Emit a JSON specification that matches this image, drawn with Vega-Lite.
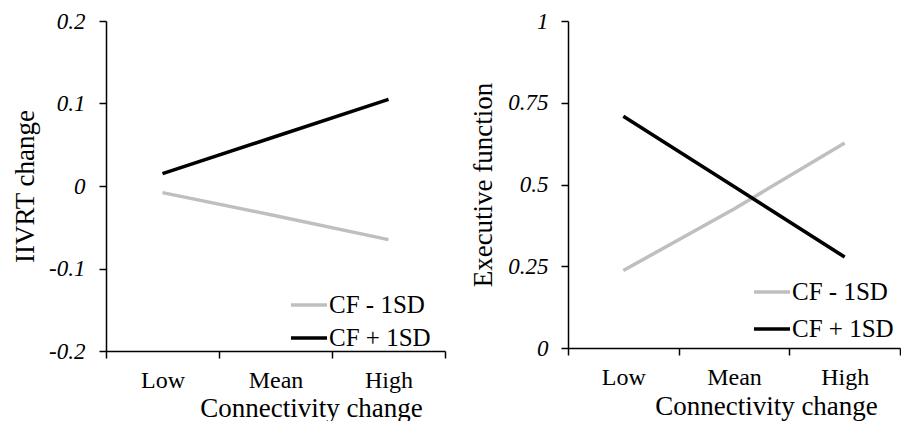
{
  "$schema": "https://vega.github.io/schema/vega-lite/v6.json",
  "background": "white",
  "padding": {"left": 11, "top": 10, "right": 0, "bottom": 0},
  "spacing": 23,
  "datasets": {
    "iivrt": [
      {"connectivity": "Low", "group": "CF - 1SD", "value": -0.008},
      {"connectivity": "Mean", "group": "CF - 1SD", "value": -0.036},
      {"connectivity": "High", "group": "CF - 1SD", "value": -0.065},
      {"connectivity": "Low", "group": "CF + 1SD", "value": 0.015},
      {"connectivity": "Mean", "group": "CF + 1SD", "value": 0.06},
      {"connectivity": "High", "group": "CF + 1SD", "value": 0.105}
    ],
    "ef": [
      {"connectivity": "Low", "group": "CF - 1SD", "value": 0.237},
      {"connectivity": "Mean", "group": "CF - 1SD", "value": 0.425},
      {"connectivity": "High", "group": "CF - 1SD", "value": 0.627},
      {"connectivity": "Low", "group": "CF + 1SD", "value": 0.709},
      {"connectivity": "Mean", "group": "CF + 1SD", "value": 0.494},
      {"connectivity": "High", "group": "CF + 1SD", "value": 0.278}
    ]
  },
  "config": {
    "view": {"stroke": null},
    "font": "Liberation Serif",
    "axis": {
      "grid": false,
      "domainColor": "#000000",
      "domainWidth": 1.5,
      "tickColor": "#000000",
      "tickWidth": 1.5,
      "tickSize": 7,
      "labelFont": "Liberation Serif",
      "titleFont": "Liberation Serif",
      "labelColor": "#000000",
      "titleColor": "#000000",
      "titleFontWeight": "normal",
      "titleFontSize": 27
    },
    "axisX": {
      "labelFontSize": 24,
      "labelAngle": 0,
      "labelBaseline": "alphabetic",
      "labelPadding": 29,
      "titleBaseline": "alphabetic",
      "titleAlign": "center",
      "titleAngle": 0
    },
    "axisY": {
      "labelFontSize": 23,
      "labelFontStyle": "italic",
      "titleAngle": -90,
      "titleAlign": "center",
      "titleBaseline": "alphabetic"
    },
    "legend": {
      "orient": "none",
      "title": null,
      "symbolType": "stroke",
      "symbolSize": 1300,
      "symbolStrokeWidth": 3,
      "labelFont": "Liberation Serif",
      "labelFontSize": 25,
      "labelColor": "#000000",
      "labelOffset": 0,
      "padding": 0
    },
    "line": {"strokeWidth": 3.5}
  },
  "resolve": {"legend": {"color": "independent"}},
  "hconcat": [
    {
      "width": 339,
      "height": 330,
      "data": {"name": "iivrt"},
      "mark": "line",
      "encoding": {
        "x": {
          "field": "connectivity",
          "type": "ordinal",
          "sort": ["Low", "Mean", "High"],
          "bandPosition": 0.5,
          "scale": {"type": "band", "paddingInner": 0, "paddingOuter": 0},
          "axis": {"title": "Connectivity  change", "titleX": 205, "titleY": 65, "tickBand": "extent"}
        },
        "y": {
          "field": "value",
          "type": "quantitative",
          "scale": {"domain": [-0.2, 0.2], "nice": false, "zero": false},
          "axis": {
            "title": "IIVRT change",
            "values": [-0.2, -0.1, 0, 0.1, 0.2],
            "labelExpr": "replace(format(datum.value, '~g'), '\u2212', '-')",
            "labelPadding": 14,
            "titleX": -73,
            "titleY": 165
          }
        },
        "color": {
          "field": "group",
          "type": "nominal",
          "scale": {"domain": ["CF - 1SD", "CF + 1SD"], "range": ["#bfbfbf", "#000000"]},
          "legend": {"legendX": 183, "legendY": 264, "rowPadding": -5}
        }
      }
    },
    {
      "width": 332,
      "height": 327,
      "data": {"name": "ef"},
      "mark": "line",
      "encoding": {
        "x": {
          "field": "connectivity",
          "type": "ordinal",
          "sort": ["Low", "Mean", "High"],
          "bandPosition": 0.5,
          "scale": {"type": "band", "paddingInner": 0, "paddingOuter": 0},
          "axis": {"title": "Connectivity  change", "titleX": 198, "titleY": 66, "tickBand": "extent"}
        },
        "y": {
          "field": "value",
          "type": "quantitative",
          "scale": {"domain": [0, 1], "nice": false},
          "axis": {
            "title": "Executive function",
            "values": [0, 0.25, 0.5, 0.75, 1],
            "labelExpr": "format(datum.value, '~g')",
            "labelPadding": 13,
            "titleX": -77,
            "titleY": 163.5
          }
        },
        "color": {
          "field": "group",
          "type": "nominal",
          "scale": {"domain": ["CF - 1SD", "CF + 1SD"], "range": ["#bfbfbf", "#000000"]},
          "legend": {"legendX": 184, "legendY": 251, "rowPadding": 4}
        }
      }
    }
  ]
}
